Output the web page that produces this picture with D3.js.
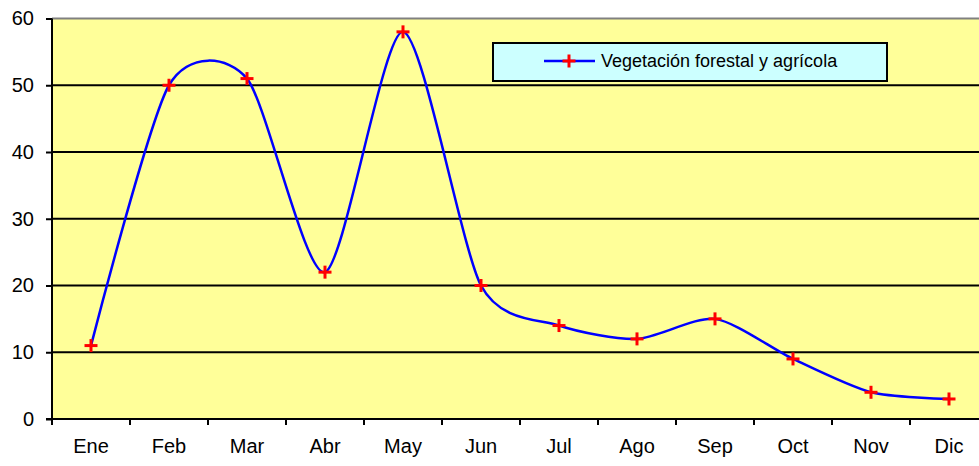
<!DOCTYPE html>
<html><head><meta charset="utf-8">
<script src="https://cdn.jsdelivr.net/npm/d3@7/dist/d3.min.js"></script>
<style>body{margin:0;background:#fff;}svg{display:block;}text{font-family:"Liberation Sans",Arial,sans-serif;}</style>
</head><body>
<svg id="c" width="979" height="466"></svg>
<script>
const categories = ["Ene","Feb","Mar","Abr","May","Jun","Jul","Ago","Sep","Oct","Nov","Dic"];
const values = [11,50,51,22,58,20,14,12,15,9,4,3];
const yTicks = [0,10,20,30,40,50,60];
const seriesName = "Vegetación forestal y agrícola";

const svg = d3.select("#c");
const L = 52, R = 988, T = 18.5, B = 419;
const x = d3.scaleBand().domain(categories).range([L, R]);
const y = d3.scaleLinear().domain([0, 60]).range([B, T]);

svg.append("rect").attr("x", L).attr("y", T).attr("width", R - L).attr("height", B - T).attr("fill", "#FFFF99");
svg.append("line").attr("x1", L).attr("x2", R).attr("y1", T).attr("y2", T).attr("stroke", "#808080").attr("stroke-width", 2);

svg.append("g").selectAll("line").data(yTicks.filter(v => v > 0 && v < 60)).join("line")
  .attr("x1", L).attr("x2", R).attr("y1", d => y(d)).attr("y2", d => y(d))
  .attr("stroke", "#000").attr("stroke-width", 2);

const ya = svg.append("g").attr("transform", `translate(${L},0)`)
  .call(d3.axisLeft(y).tickValues(yTicks).tickSize(6).tickPadding(12).tickFormat(d3.format("d")));
ya.select(".domain").remove();
ya.selectAll(".tick line").attr("stroke", "#000").attr("stroke-width", 2);
ya.selectAll(".tick text").attr("font-size", 20).attr("fill", "#000").attr("font-family", "Liberation Sans, Arial, sans-serif");

const xa = svg.append("g").attr("transform", `translate(0,${B})`)
  .call(d3.axisBottom(x).tickSize(0).tickPadding(20));
xa.select(".domain").remove();
xa.selectAll(".tick text").attr("font-size", 20).attr("fill", "#000").attr("font-family", "Liberation Sans, Arial, sans-serif");

const bounds = categories.map(c => x(c)).concat([x(categories[categories.length - 1]) + x.bandwidth()]);
svg.append("g").selectAll("line").data(bounds).join("line")
  .attr("x1", d => d).attr("x2", d => d).attr("y1", B).attr("y2", B + 6)
  .attr("stroke", "#000").attr("stroke-width", 2);

svg.append("line").attr("x1", L).attr("x2", L).attr("y1", T).attr("y2", B + 1).attr("stroke", "#000").attr("stroke-width", 2);
svg.append("line").attr("x1", L - 6).attr("x2", R).attr("y1", B).attr("y2", B).attr("stroke", "#000").attr("stroke-width", 2);

const pts = categories.map((c, i) => [x(c) + x.bandwidth() / 2, y(values[i])]);
const line = d3.line().curve(d3.curveCardinal.tension(0.25));
svg.append("path").attr("d", line(pts)).attr("fill", "none").attr("stroke", "#0000FF").attr("stroke-width", 2.5);

const plus = (g, cx, cy, s) => {
  g.append("line").attr("x1", cx - s).attr("x2", cx + s).attr("y1", cy).attr("y2", cy);
  g.append("line").attr("x1", cx).attr("x2", cx).attr("y1", cy - s).attr("y2", cy + s);
};
const mg = svg.append("g").attr("stroke", "#FF0000").attr("stroke-width", 3);
pts.forEach(p => plus(mg, p[0], p[1], 6.5));

const lg = svg.append("g");
lg.append("rect").attr("x", 493).attr("y", 43).attr("width", 394).attr("height", 38)
  .attr("fill", "#CCFFFF").attr("stroke", "#000").attr("stroke-width", 2);
lg.append("line").attr("x1", 544).attr("x2", 595).attr("y1", 61).attr("y2", 61).attr("stroke", "#0000FF").attr("stroke-width", 2.5);
const lm = lg.append("g").attr("stroke", "#FF0000").attr("stroke-width", 3);
plus(lm, 569, 61, 6.5);
lg.append("text").attr("x", 601).attr("y", 67).attr("font-size", 18).attr("fill", "#000").text(seriesName);
</script>
</body></html>
